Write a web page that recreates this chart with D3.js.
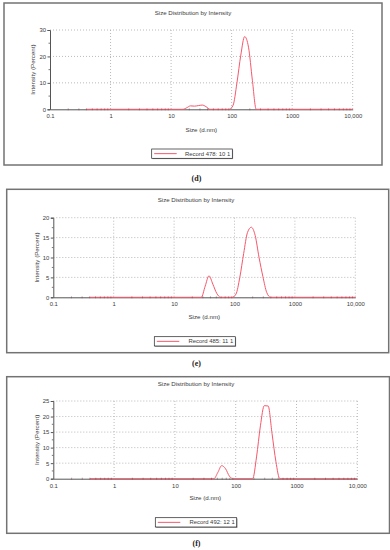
<!DOCTYPE html>
<html lang="en">
<head>
<meta charset="UTF-8">
<title>Size Distribution by Intensity</title>
<script src="https://cdnjs.cloudflare.com/ajax/libs/d3/7.8.5/d3.min.js"></script>
<style>
    body { margin: 0; background: #fff; }
    svg { display: block; font-family: "Liberation Sans", Arial, sans-serif; }
</style>
</head>
<body>
<svg id="chart" width="390" height="550"></svg>
<script>
// x tick values / labels shared by all three panels
const sizeTicks = [0.1, 1, 10, 100, 1000, 10000];
const sizeTickLabels = ["0.1", "1", "10", "100", "1000", "10,000"];

// (d) Record 478
const sizesD = [0.4, 15.7, 18.2, 21.0, 24.4, 28.2, 32.7, 37.8, 43.8, 91.3, 105.7, 122.4, 141.8, 164.2, 190.1, 220.2, 255.0, 10000];
const intensityD = [0, 0, 0.6, 1.3, 1.2, 1.4, 1.6, 1.0, 0, 0, 1.5, 10, 20.5, 27.5, 23.5, 11, 0, 0];
const yTicksD = [0, 10, 20, 30];

// (e) Record 485
const sizesE = [0.4, 28.2, 32.7, 37.8, 43.8, 50.8, 58.8, 91.3, 105.7, 122.4, 141.8, 164.2, 190.1, 220.2, 255.0, 295.3, 342.0, 396.1, 10000];
const intensityE = [0, 0, 2.8, 5.4, 3.3, 1.0, 0, 0, 0.8, 5, 11, 16.3, 17.6, 15.5, 10, 5.2, 1.2, 0, 0];
const yTicksE = [0, 5, 10, 15, 20];

// (f) Record 492
const sizesF = [0.4, 43.8, 50.8, 58.8, 68.1, 78.8, 91.3, 190.1, 220.2, 255.0, 295.3, 342.0, 396.1, 458.7, 531.2, 10000];
const intensityF = [0, 0, 2.0, 4.2, 3.2, 0.8, 0, 0, 7, 17, 23.5, 23.4, 14.5, 5.5, 0, 0];
const yTicksF = [0, 5, 10, 15, 20, 25];

const panels = [
    { sizes: sizesD, values: intensityD, yTicks: yTicksD, record: "Record 478: 10 1", tag: "(d)",
      box: [4, 3, 382, 165], plot: [50, 30, 352.7, 109.3], titleX: 193, titleY: 15,
      xLabelY: 131.5, yLabelX: 35, legend: [151.7, 149, 80.6, 9.3], tagY: 181 },
    { sizes: sizesE, values: intensityE, yTicks: yTicksE, record: "Record 485: 11 1", tag: "(e)",
      box: [6.7, 189.3, 388.7, 352.7], plot: [53.3, 217.7, 355.3, 297.3], titleX: 196, titleY: 202.3,
      xLabelY: 319, yLabelX: 38.5, legend: [154.3, 336.7, 81, 9.3], tagY: 366 },
    { sizes: sizesF, values: intensityF, yTicks: yTicksF, record: "Record 492: 12 1", tag: "(f)",
      box: [6.7, 376.7, 389.5, 533.3], plot: [53.3, 401, 357.3, 478.7], titleX: 196, titleY: 386.3,
      xLabelY: 500.3, yLabelX: 38.5, legend: [155.3, 517.7, 81.4, 9.3], tagY: 546 }
];

const svg = d3.select("#chart");
const textColor = "#3a3a3a";
const lineColor = "#f5586b";

panels.forEach(p => {
    const [bx0, by0, bx1, by1] = p.box;
    const [px0, py0, px1, py1] = p.plot;
    const yMax = p.yTicks[p.yTicks.length - 1];

    const x = d3.scaleLog().domain([0.1, 10000]).range([px0, px1]);
    const y = d3.scaleLinear().domain([0, yMax]).range([py1, py0]);

    const g = svg.append("g");

    // panel frame
    g.append("rect")
        .attr("x", bx0).attr("y", by0)
        .attr("width", bx1 - bx0).attr("height", by1 - by0)
        .attr("fill", "#fff").attr("stroke", "#737373").attr("stroke-width", 1.5);

    g.append("text")
        .attr("x", p.titleX).attr("y", p.titleY)
        .attr("text-anchor", "middle").attr("font-size", 6.1).attr("fill", textColor)
        .text("Size Distribution by Intensity");

    // dotted grid
    g.append("g").selectAll("line")
        .data(sizeTicks.slice(1))
        .join("line")
        .attr("x1", d => x(d)).attr("x2", d => x(d))
        .attr("y1", py0).attr("y2", py1)
        .attr("stroke", "#a8a8a8").attr("stroke-width", 0.8).attr("stroke-dasharray", "1,2");

    g.append("g").selectAll("line")
        .data(p.yTicks.slice(1))
        .join("line")
        .attr("x1", px0).attr("x2", px1)
        .attr("y1", d => y(d)).attr("y2", d => y(d))
        .attr("stroke", "#a8a8a8").attr("stroke-width", 0.8).attr("stroke-dasharray", "1,2");

    // y axis
    const step = p.yTicks[1] - p.yTicks[0];
    const yAxis = d3.axisLeft(y).tickValues(p.yTicks).tickSize(2.5).tickPadding(1.5)
        .tickFormat(d3.format("d"));
    const ya = g.append("g").attr("transform", `translate(${px0},0)`).call(yAxis);
    ya.selectAll(".tick line").attr("stroke", "#555");
    const minorY = d3.range(0, yMax, step / 2).filter(v => !p.yTicks.includes(v));
    ya.selectAll(".minor").data(minorY).join("line").attr("class", "minor")
        .attr("x1", -1.5).attr("x2", 0).attr("y1", d => y(d)).attr("y2", d => y(d))
        .attr("stroke", "#555").attr("stroke-width", 0.8);

    // x axis
    const xAxis = d3.axisBottom(x).tickValues(sizeTicks).tickSize(0).tickPadding(5)
        .tickFormat((d, i) => sizeTickLabels[i]);
    const xa = g.append("g").attr("transform", `translate(0,${py1})`).call(xAxis);

    [ya, xa].forEach(a => {
        a.select(".domain").attr("stroke", "#555").attr("stroke-width", 1);
        a.selectAll("text").attr("font-size", 5.9).attr("fill", textColor)
            .attr("font-family", "Liberation Sans, Arial, sans-serif");
    });

    g.append("text")
        .attr("x", (px0 + px1) / 2).attr("y", p.xLabelY)
        .attr("text-anchor", "middle").attr("font-size", 6.2).attr("fill", textColor)
        .text("Size (d.nm)");

    g.append("text")
        .attr("transform", `translate(${p.yLabelX},${(py0 + py1) / 2}) rotate(-90)`)
        .attr("text-anchor", "middle").attr("font-size", 6.2).attr("fill", textColor)
        .text("Intensity (Percent)");

    // distribution curve
    const pts = p.sizes.map((s, i) => [s, p.values[i]]);
    const line = d3.line()
        .x(d => x(d[0])).y(d => y(d[1]))
        .curve(d3.curveMonotoneX);
    g.append("path")
        .datum(pts)
        .attr("d", line)
        .attr("fill", "none").attr("stroke", lineColor).attr("stroke-width", 1)
        .attr("stroke-linejoin", "round");

    // minor size ticks on the baseline
    const minorX = [];
    [0.1, 1, 10, 100, 1000].forEach(dec => d3.range(2, 10).forEach(k => minorX.push(dec * k)));
    g.append("g").selectAll("line")
        .data(minorX)
        .join("line")
        .attr("x1", d => x(d)).attr("x2", d => x(d))
        .attr("y1", py1 - 1).attr("y2", py1 + 1)
        .attr("stroke", "#7a3a40").attr("stroke-opacity", 0.5).attr("stroke-width", 0.9);

    // legend
    const [lx, ly, lw, lh] = p.legend;
    g.append("rect")
        .attr("x", lx + 0.8).attr("y", ly + 0.8).attr("width", lw).attr("height", lh)
        .attr("fill", "#999");
    g.append("rect")
        .attr("x", lx).attr("y", ly).attr("width", lw).attr("height", lh)
        .attr("fill", "#fff").attr("stroke", "#222").attr("stroke-width", 0.7);
    g.append("line")
        .attr("x1", lx + 2.5).attr("x2", lx + 25)
        .attr("y1", ly + lh / 2).attr("y2", ly + lh / 2)
        .attr("stroke", lineColor).attr("stroke-width", 1);
    g.append("text")
        .attr("x", lx + lw - 2).attr("y", ly + lh / 2 + 2.1)
        .attr("text-anchor", "end").attr("font-size", 5.9).attr("fill", textColor)
        .text(p.record);

    // panel tag
    svg.append("text")
        .attr("x", 196.5).attr("y", p.tagY)
        .attr("text-anchor", "middle")
        .attr("font-family", "Liberation Serif, Times New Roman, serif")
        .attr("font-weight", "bold").attr("font-size", 8).attr("fill", "#222")
        .text(p.tag);
});
</script>
</body>
</html>
